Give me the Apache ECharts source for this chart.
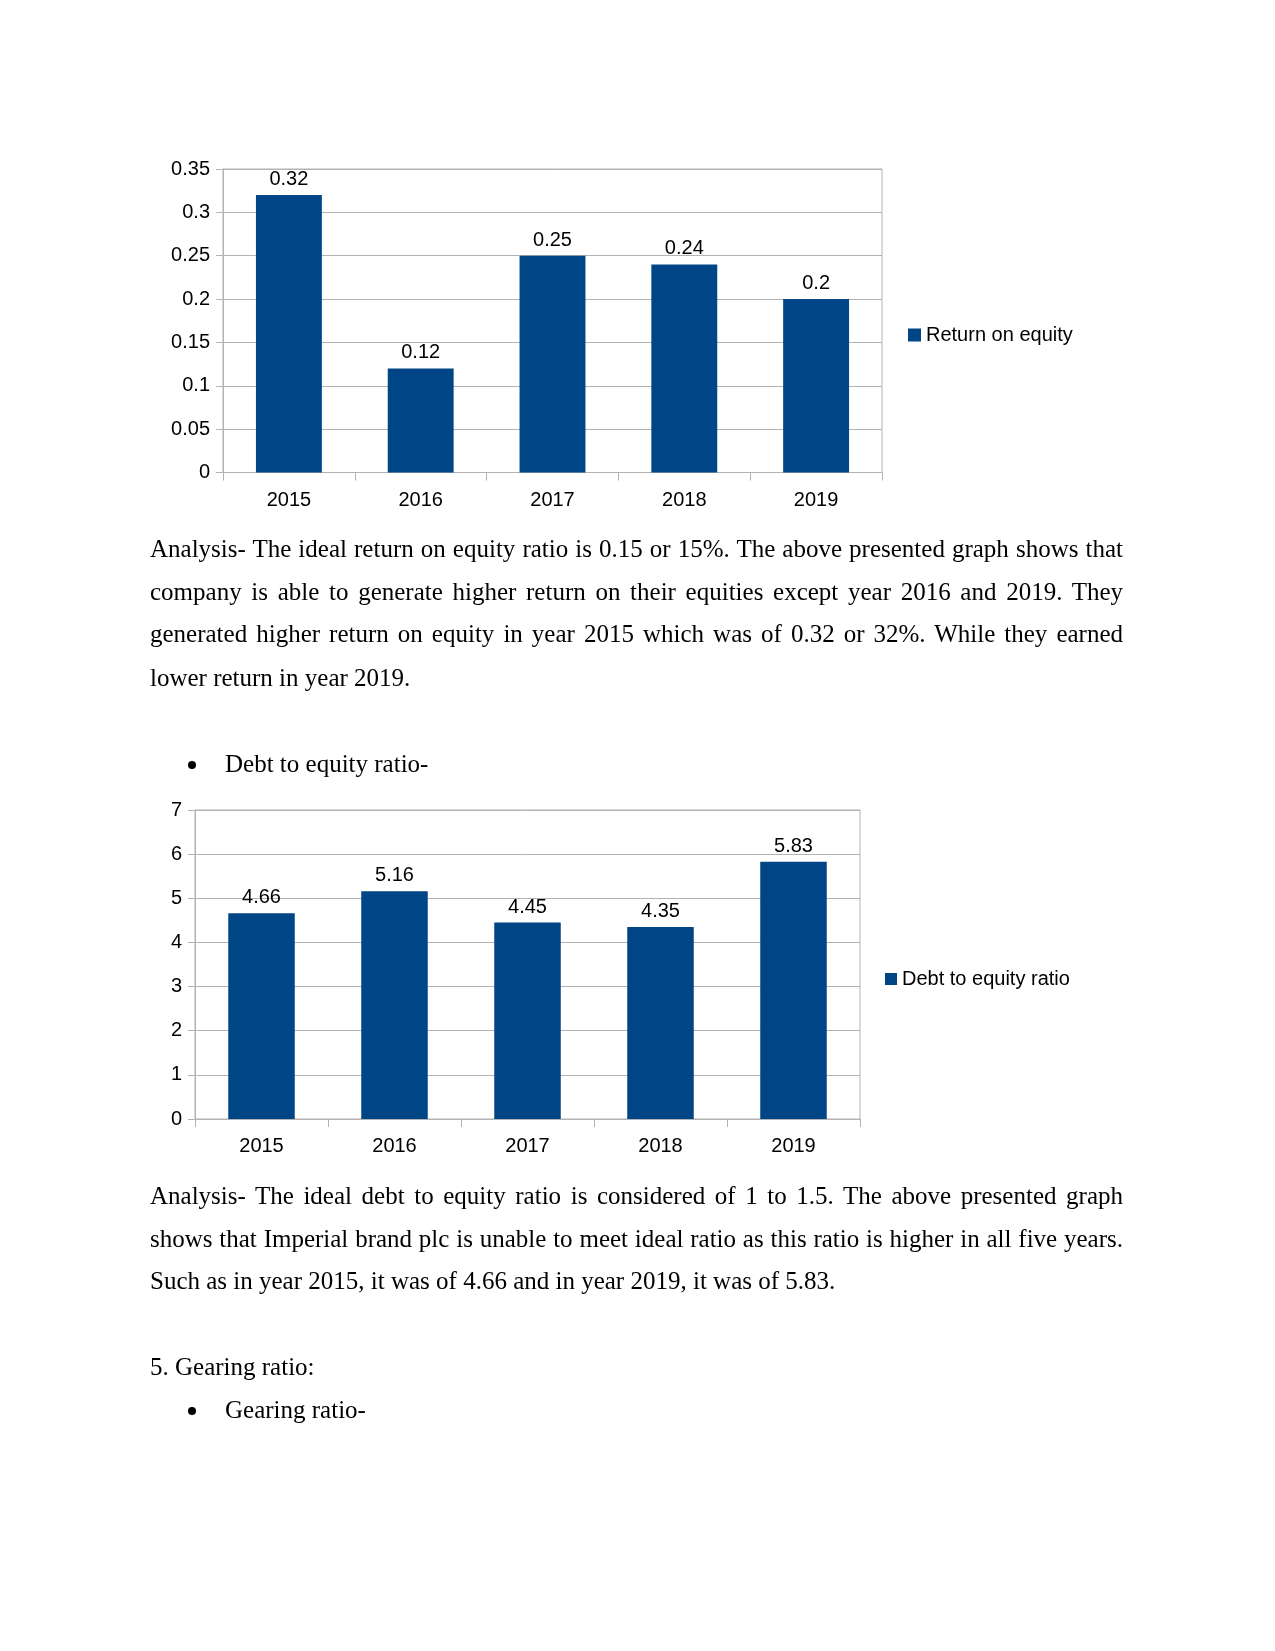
<!DOCTYPE html>
<html>
<head>
<meta charset="utf-8">
<script src="https://cdn.jsdelivr.net/npm/echarts@6/dist/echarts.min.js"></script>
<style>
  html, body { margin: 0; padding: 0; background: #fff; }
  #page { position: relative; width: 1275px; height: 1651px; overflow: hidden; background: #fff; }
  #chart { position: absolute; left: 0; top: 0; width: 1275px; height: 1651px; }
  .ln { position: absolute; left: 150px; width: 973px; height: 43px; line-height: 43px;
        font-family: "Liberation Serif", "Times New Roman", serif; font-size: 25px; color: #000;
        white-space: nowrap; }
  .j { text-align: justify; text-align-last: justify; white-space: normal; }
  .bul { position: absolute; left: 188px; top: 19px; width: 8px; height: 8px; border-radius: 50%; background: #000; }
  .btxt { position: absolute; left: 225px; }
</style>
</head>
<body>
<div id="page">
  <div id="chart"></div>
</div>
<script>
// ---- data ----
var years = ['2015', '2016', '2017', '2018', '2019'];
var roeValues = [0.32, 0.12, 0.25, 0.24, 0.2];
var deValues = [4.66, 5.16, 4.45, 4.35, 5.83];
var roeAxis = { min: 0, max: 0.35, interval: 0.05 };
var deAxis = { min: 0, max: 7, interval: 1 };
var roeName = 'Return on equity';
var deName = 'Debt to equity ratio';

var textLines = [
  { y: 548.5, t: 'Analysis- The ideal return on equity ratio is 0.15 or 15%. The above presented graph shows that', j: true },
  { y: 591.7, t: 'company is able to generate higher return on their equities except year 2016 and 2019. They', j: true },
  { y: 633.8, t: 'generated higher return on equity in year 2015 which was of 0.32 or 32%. While they earned', j: true },
  { y: 677.0, t: 'lower return in year 2019.', j: false },
  { y: 763.3, t: 'Debt to equity ratio-', bullet: true },
  { y: 1195.0, t: 'Analysis- The ideal debt to equity ratio is considered of 1 to 1.5. The above presented graph', j: true },
  { y: 1238.1, t: 'shows that Imperial brand plc is unable to meet ideal ratio as this ratio is higher in all five years.', j: true },
  { y: 1280.5, t: 'Such as in year 2015, it was of 4.66 and in year 2019, it was of 5.83.', j: false },
  { y: 1366.0, t: '5. Gearing ratio:', j: false },
  { y: 1409.7, t: 'Gearing ratio-', bullet: true }
];

// ---- text ----
var page = document.getElementById('page');
textLines.forEach(function (L) {
  var d = document.createElement('div');
  d.className = 'ln' + (L.j ? ' j' : '');
  d.style.top = (L.y - 21.5) + 'px';
  if (L.bullet) {
    d.style.left = '0px';
    d.style.width = '1275px';
    var b = document.createElement('span'); b.className = 'bul';
    var s = document.createElement('span'); s.className = 'btxt'; s.textContent = L.t;
    d.appendChild(b); d.appendChild(s);
  } else {
    d.textContent = L.t;
  }
  page.appendChild(d);
});

// ---- chart ----
var BAR = '#004586';
var GRID = '#b3b3b3';
var FONT = '"Liberation Sans", Arial, sans-serif';
function fmt(v) { return String(parseFloat(Number(v).toFixed(4))); }

function xAxisFor(idx, margin) {
  return {
    type: 'category', gridIndex: idx, data: years,
    axisLine: { show: true, lineStyle: { color: GRID, width: 1 } },
    axisTick: { show: true, length: 8, lineStyle: { color: GRID } },
    axisLabel: { color: '#000', fontFamily: FONT, fontSize: 20, margin: margin }
  };
}
function yAxisFor(idx, ax) {
  return {
    type: 'value', gridIndex: idx, min: ax.min, max: ax.max, interval: ax.interval,
    axisLine: { show: true, lineStyle: { color: GRID, width: 1 } },
    axisTick: { show: true, length: 7, lineStyle: { color: GRID } },
    axisLabel: { color: '#000', fontFamily: FONT, fontSize: 20, margin: 13, formatter: fmt },
    splitLine: { show: true, lineStyle: { color: GRID, width: 1 } }
  };
}
function barSeries(name, data, idx) {
  return {
    type: 'bar', name: name, xAxisIndex: idx, yAxisIndex: idx, data: data,
    barWidth: '50%', itemStyle: { color: BAR }, animation: false,
    label: { show: true, position: 'top', distance: 5.5, color: '#000', fontFamily: FONT, fontSize: 20, formatter: function (p) { return fmt(p.value); } }
  };
}

var chart = echarts.init(document.getElementById('chart'), null, { renderer: 'canvas' });
chart.setOption({
  animation: false,
  backgroundColor: 'transparent',
  grid: [
    { left: 223, top: 169, width: 659, height: 303.5, show: true, borderColor: GRID, borderWidth: 1, containLabel: false },
    { left: 195, top: 810, width: 665, height: 309, show: true, borderColor: GRID, borderWidth: 1, containLabel: false }
  ],
  xAxis: [xAxisFor(0, 18), xAxisFor(1, 17)],
  yAxis: [yAxisFor(0, roeAxis), yAxisFor(1, deAxis)],
  legend: [
    { data: [roeName], left: 908, top: 325, padding: 0, itemWidth: 13, itemHeight: 13, itemGap: 5, icon: 'rect',
      textStyle: { color: '#000', fontFamily: FONT, fontSize: 20, lineHeight: 20 }, selectedMode: false },
    { data: [deName], left: 885, top: 969, padding: 0, itemWidth: 12, itemHeight: 12, itemGap: 5, icon: 'rect',
      textStyle: { color: '#000', fontFamily: FONT, fontSize: 20, lineHeight: 20 }, selectedMode: false }
  ],
  series: [barSeries(roeName, roeValues, 0), barSeries(deName, deValues, 1)]
});
</script>
</body>
</html>
